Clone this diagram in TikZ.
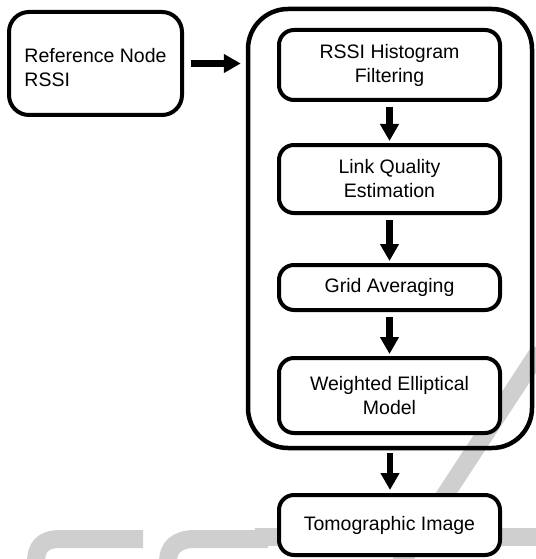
\documentclass[tikz,border=0pt]{standalone}
\usepackage{fontspec}
\setmainfont{Liberation Sans}
\usetikzlibrary{arrows.meta}

\begin{document}
\begin{tikzpicture}[x=1pt,y=-1pt,
  box/.style={draw=black,line width=4pt,rounded corners=15pt,fill=white,
    align=center,inner sep=0pt,
    font=\fontsize{19.5}{24}\selectfont},
  stage/.style={box,minimum width=221pt},
  flow/.style={line width=6.5pt,-{Triangle[length=17pt,width=18pt]}},
  faint/.style={draw=black!19,line width=18pt}
]
\useasboundingbox (0,0) rectangle (535,559);

% faint lettering in the background
\draw[faint] (143,539) -- (60,539) .. controls (42,539) and (36,548) .. (36,562);
\draw[faint] (268,539) -- (195,539) .. controls (176,539) and (168,548) .. (168,562);
\draw[faint] (255,537) -- (330,537);
\draw[faint] (498,537) -- (540,537);
\draw[faint] (540,350) -- (400,564);

% input
\node[box,rounded corners=20pt,minimum width=173pt,minimum height=103pt,align=left]
  (ref) at (95.5,63.5) {\rule{0pt}{22pt}Reference Node\\RSSI};

% processing block
\node[draw=black,line width=4.5pt,rounded corners=40pt,minimum width=284pt,
  minimum height=439pt,inner sep=0pt] (proc) at (390,228.5) {};

\node[stage,minimum height=70pt] (hist) at (389.5,65)  {RSSI Histogram\\Filtering};
\node[stage,minimum height=68pt] (lqe)  at (389.5,179) {Link Quality\\Estimation};
\node[stage,minimum height=45pt] (grid) at (389.5,287.5) {Grid Averaging};
\node[stage,minimum height=75pt] (wem)  at (389.5,395.5) {Weighted Elliptical\\Model};

% output
\node[stage,minimum height=60pt] (tomo) at (389.5,525) {Tomographic Image};

% connectors
\draw[flow,shorten <=7pt,shorten >=5pt] (ref.east) -- (ref.east -| proc.west);
\draw[flow,shorten <=5pt,shorten >=2pt] (hist) -- (lqe);
\draw[flow,shorten <=5pt,shorten >=2pt] (lqe) -- (grid);
\draw[flow,shorten <=5pt,shorten >=2pt] (grid) -- (wem);
\draw[flow,shorten <=3pt,shorten >=3pt] (proc.south) -- (proc.south |- tomo.north);
\end{tikzpicture}
\end{document}
